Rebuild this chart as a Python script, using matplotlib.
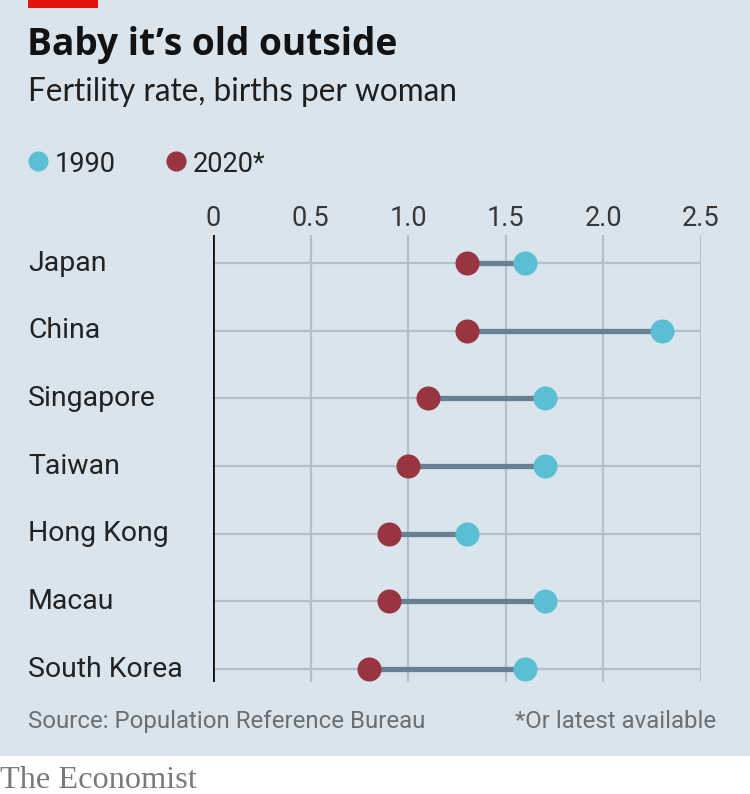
import matplotlib
matplotlib.use("Agg")
import matplotlib.pyplot as plt
import matplotlib.transforms as mtransforms
from matplotlib.lines import Line2D
from matplotlib.patches import Rectangle

# data
countries = ["Japan", "China", "Singapore", "Taiwan", "Hong Kong", "Macau", "South Korea"]
rate_1990 = [1.6, 2.3, 1.7, 1.7, 1.3, 1.7, 1.6]
rate_2020 = [1.3, 1.3, 1.1, 1.0, 0.9, 0.9, 0.8]
xticks = [0, 0.5, 1.0, 1.5, 2.0, 2.5]
xtick_labels = ["0", "0.5", "1.0", "1.5", "2.0", "2.5"]

BG = "#d9e4ec"
CYAN = "#5bbfd4"
RED = "#983541"
LINK = "#68808f"
GRID = "#b4c0c8"
sans = ["Roboto", "DejaVu Sans"]

W, H = 750, 794
fig = plt.figure(figsize=(W / 100, H / 100), dpi=100)
fig.patch.set_facecolor(BG)

def fx(px):
    return px / W

def fy(py):
    return 1 - py / H

# bottom white strip and red tag
fig.add_artist(Rectangle((0, 0), 1, 38 / H, transform=fig.transFigure,
                         facecolor="white", edgecolor="none"))
fig.add_artist(Rectangle((fx(28), fy(8)), fx(70), 8 / H, transform=fig.transFigure,
                         facecolor="#e3120b", edgecolor="none"))

fig.text(fx(27), fy(55), "Baby it\u2019s old outside", fontsize=26.7, fontweight="bold",
         family=["Open Sans", "DejaVu Sans"], color="#121212", va="baseline", ha="left")
fig.text(fx(28), fy(101), "Fertility rate, births per woman", fontsize=22.7,
         family=["Lato", "DejaVu Sans"], color="#1e1e1e", va="baseline", ha="left")

# legend
for x0, col, lab in [(38, CYAN, "1990"), (176, RED, "2020*")]:
    fig.add_artist(Line2D([fx(x0)], [fy(161)], marker="o", markersize=13.5,
                          color=col, linestyle="none", transform=fig.transFigure))
    fig.text(fx(x0 + 17), fy(172), lab, fontsize=19.5, family=sans,
             color="#222222", va="baseline", ha="left")

ax = fig.add_axes([fx(213), fy(682), fx(701) - fx(213), (682 - 235) / H])
ax.set_facecolor("none")
ypos = list(range(len(countries)))

for y, a, b in zip(ypos, rate_2020, rate_1990):
    ax.plot([a, b], [y, y], color=LINK, lw=3.8, zorder=3, solid_capstyle="butt")
ax.scatter(rate_1990, ypos, s=300, color=CYAN, zorder=4, linewidths=0, clip_on=False)
ax.scatter(rate_2020, ypos, s=300, color=RED, zorder=5, linewidths=0, clip_on=False)

for y in ypos:
    ax.axhline(y, color=GRID, lw=1.6, zorder=1)
for x in xticks[1:]:
    ax.axvline(x, color=GRID, lw=1.6, zorder=1)
ax.axvline(0, color="#111111", lw=2, zorder=6)

ax.set_xlim(0, 2.5)
ax.set_ylim(6.19, -0.414)
for s in ax.spines.values():
    s.set_visible(False)
ax.xaxis.tick_top()
ax.set_xticks(xticks)
ax.set_xticklabels(xtick_labels, fontsize=19.5, family=sans, color="#383838")
ax.tick_params(axis="x", length=0, pad=2)
ax.set_yticks([])

trans = mtransforms.blended_transform_factory(fig.transFigure, ax.transData)
for y, name in zip(ypos, countries):
    ax.text(fx(28), y, name, transform=trans, fontsize=20.4, family=sans,
            color="#222222", va="center", ha="left")

fig.text(fx(28), fy(728), "Source: Population Reference Bureau", fontsize=17.3,
         family=sans, color="#6a6f73", va="baseline", ha="left")
fig.text(fx(716), fy(728), "*Or latest available", fontsize=17.3,
         family=sans, color="#6a6f73", va="baseline", ha="right")
fig.text(0, fy(788), "The Economist", fontsize=23.3, family=["Liberation Serif", "DejaVu Serif"],
         color="#7a7a7a", va="baseline", ha="left")

fig.savefig("out.png", dpi=100, facecolor=fig.get_facecolor())
